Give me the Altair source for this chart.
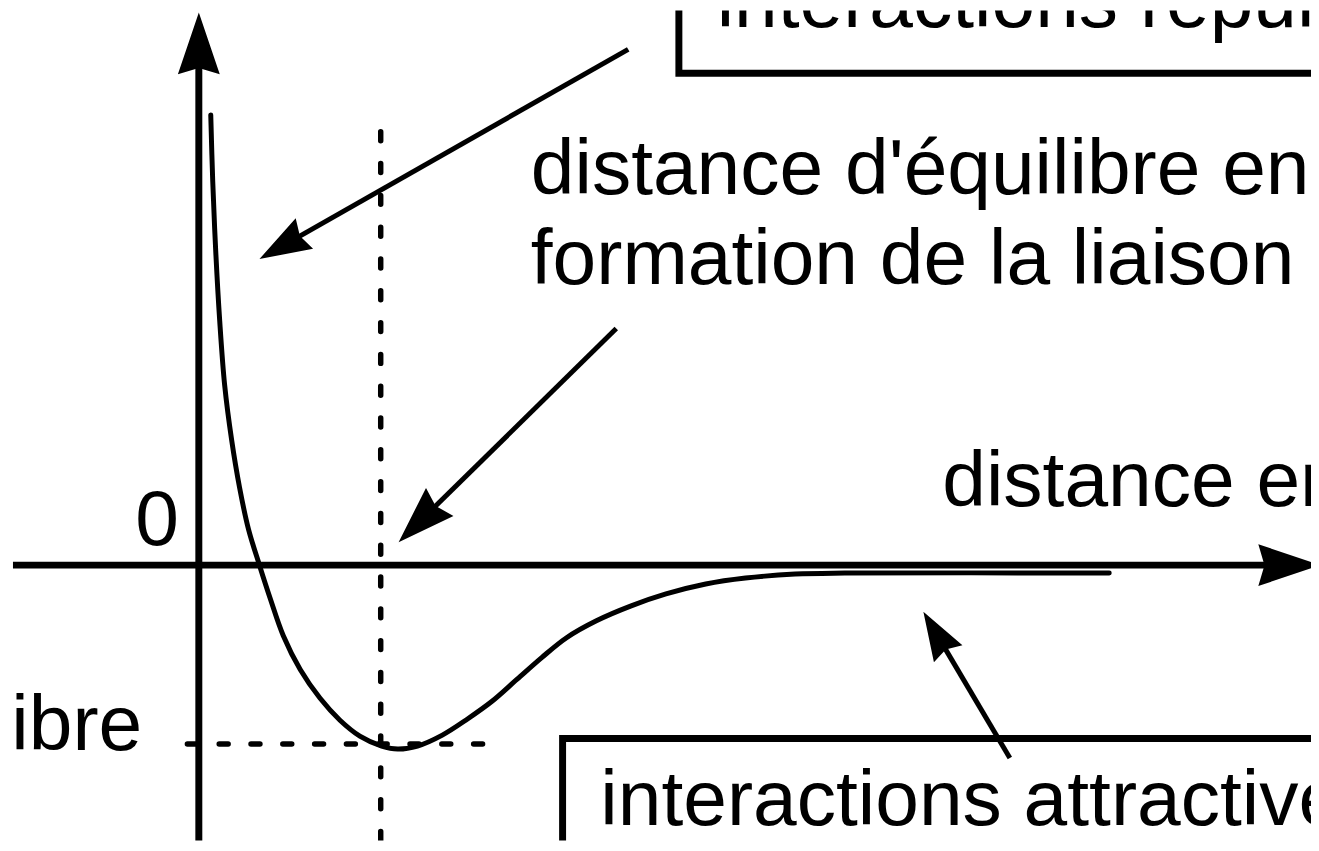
import math
import altair as alt
import pandas as pd

# ---------------- data (diagram units: r = distance, E = energy; origin at axes crossing) -------------
curve_r = [0.12, 0.14, 0.17, 0.21, 0.26, 0.33, 0.41, 0.50, 0.61, 0.72, 0.85, 1.02, 1.22, 1.42, 1.62,
           1.84, 2.00, 2.20, 2.45, 2.70, 2.95, 3.20, 3.45, 3.70, 4.00, 4.35, 4.70, 5.10, 5.50, 6.00,
           6.50, 9.16]
curve_E = [4.53, 3.86, 3.16, 2.46, 1.81, 1.26, 0.78, 0.36, 0.00, -0.34, -0.71, -1.05, -1.34, -1.56, -1.72,
           -1.82, -1.85, -1.82, -1.71, -1.55, -1.37, -1.15, -0.93, -0.73, -0.56, -0.41, -0.29, -0.19, -0.13, -0.09,
           -0.08, -0.08]

# axes: start point and arrow tip
axis_names = ["energie", "distance"]
axis_start_r = [0.00, -1.87]
axis_start_E = [-2.79, 0.00]
axis_tip_r = [0.00, 11.28]
axis_tip_E = [5.56, 0.00]

# annotation arrows: start point and tip
arrow_names = ["repulsives", "equilibre", "attractives"]
arrow_start_r = [4.32, 4.20, 8.16]
arrow_start_E = [5.19, 2.38, -1.94]
arrow_tip_r = [0.61, 2.01, 7.29]
arrow_tip_E = [3.08, 0.23, -0.47]

# equilibrium guides
r_eq = 1.83
E_eq = -1.80
guide_v_E = [4.36, -2.95]
guide_h_r = [-0.115, 2.90]

# label boxes (left/bottom edges visible; they run off the picture)
box_r = [4.83, 3.66]
box_r2 = [14.0, 14.0]
box_E = [4.95, -1.745]
box_E2 = [7.0, -4.0]

# texts
labels_left = ["interactions répulsives", "distance d'équilibre en", "formation de la liaison",
               "distance entre atomes", "interactions attractives"]
labels_left_r = [5.21, 3.34, 3.34, 7.48, 4.04]
labels_left_E = [5.41, 3.73, 2.83, 0.60, -2.61]
labels_right = ["0", "énergie d'équilibre"]
labels_right_r = [-0.20, -0.57]
labels_right_E = [0.20, -1.86]

# ---------------- layout ----------------
W, H = 1311, 835
UNIT = 100.0          # px per diagram unit
ORIGIN_X, ORIGIN_Y = 200, 566   # page px of the axes crossing
PAGE_OFF = 8
x_dom = [(PAGE_OFF - ORIGIN_X) / UNIT, (PAGE_OFF + W - ORIGIN_X) / UNIT]
y_dom = [(ORIGIN_Y - PAGE_OFF - H) / UNIT, (ORIGIN_Y - PAGE_OFF) / UNIT]
xs = alt.Scale(domain=x_dom, nice=False, zero=False)
ys = alt.Scale(domain=y_dom, nice=False, zero=False)

FONT = "Liberation Sans"
FS = 79
HEAD_PATH = "M0,0L0.34,1L0,0.9L-0.34,1Z"


def head_rows(sr, sE, tr, tE, length_px):
    rows_h, rows_s = [], []
    for a, b, c, d, L in zip(sr, sE, tr, tE, length_px):
        dx, dy = c - a, d - b
        n = math.hypot(dx, dy)
        ang = math.degrees(math.atan2(dx, dy)) % 360
        rows_h.append({"r": c, "E": d, "angle": ang, "size": (2 * L) ** 2})
        back = 0.8 * L / UNIT
        rows_s.append({"r": a, "E": b, "r2": c - dx / n * back, "E2": d - dy / n * back})
    return rows_h, rows_s


ax_heads, ax_shafts = head_rows(axis_start_r, axis_start_E, axis_tip_r, axis_tip_E, [62, 62])
ar_heads, ar_shafts = head_rows(arrow_start_r, arrow_start_E, arrow_tip_r, arrow_tip_E, [52, 58, 49])

curve_df = pd.DataFrame({"r": curve_r, "E": curve_E})
heads_df = pd.DataFrame(ax_heads + ar_heads)
ax_df = pd.DataFrame(ax_shafts)
ar_df = pd.DataFrame(ar_shafts)
guide_v_df = pd.DataFrame({"r": [r_eq], "E": [guide_v_E[0]], "r2": [r_eq], "E2": [guide_v_E[1]]})
guide_h_df = pd.DataFrame({"r": [guide_h_r[0]], "E": [E_eq], "r2": [guide_h_r[1]], "E2": [E_eq]})
box_df = pd.DataFrame({"r": box_r, "r2": box_r2, "E": box_E, "E2": box_E2})
tl_df = pd.DataFrame({"r": labels_left_r, "E": labels_left_E, "t": labels_left})
tr_df = pd.DataFrame({"r": labels_right_r, "E": labels_right_E, "t": labels_right})

X = lambda: alt.X("r:Q", scale=xs, axis=None)
Y = lambda: alt.Y("E:Q", scale=ys, axis=None)


def seg_enc():
    return dict(x=X(), y=Y(), x2=alt.X2("r2:Q"), y2=alt.Y2("E2:Q"))


boxes = alt.Chart(box_df).mark_rect(stroke="black", strokeWidth=7, fillOpacity=0, clip=True).encode(**seg_enc())
guide_v = alt.Chart(guide_v_df).mark_rule(color="black", strokeWidth=5.5, strokeDash=[9, 23],
                                          strokeCap="round", clip=True).encode(**seg_enc())
guide_h = alt.Chart(guide_h_df).mark_rule(color="black", strokeWidth=5.5, strokeDash=[9, 23],
                                          strokeCap="round", clip=True).encode(**seg_enc())
axes = alt.Chart(ax_df).mark_rule(color="black", strokeWidth=7, clip=True).encode(**seg_enc())
shafts = alt.Chart(ar_df).mark_rule(color="black", strokeWidth=5, clip=True).encode(**seg_enc())
curve = alt.Chart(curve_df).mark_line(color="black", strokeWidth=5, interpolate="catmull-rom",
                                      strokeCap="round", clip=True).encode(
    x=X(), y=Y(), order=alt.Order("r:Q"))
heads = alt.Chart(heads_df).mark_point(shape=HEAD_PATH, filled=True, fill="black", opacity=1,
                                       strokeWidth=0, clip=True).encode(
    x=X(), y=Y(), angle=alt.Angle("angle:Q", scale=None), size=alt.Size("size:Q", scale=None))
text_l = alt.Chart(tl_df).mark_text(align="left", baseline="alphabetic", font=FONT, fontSize=FS,
                                    color="black", clip=True).encode(x=X(), y=Y(), text="t:N")
text_r = alt.Chart(tr_df).mark_text(align="right", baseline="alphabetic", font=FONT, fontSize=FS,
                                    color="black", clip=True).encode(x=X(), y=Y(), text="t:N")

chart = alt.layer(boxes, guide_v, guide_h, axes, shafts, curve, heads, text_l, text_r).properties(
    width=W, height=H, autosize=alt.AutoSizeParams(type="none"), padding=0, background="white"
).configure_view(stroke=None)

chart.save("out.html", embed_options={"renderer": "svg", "actions": False})
